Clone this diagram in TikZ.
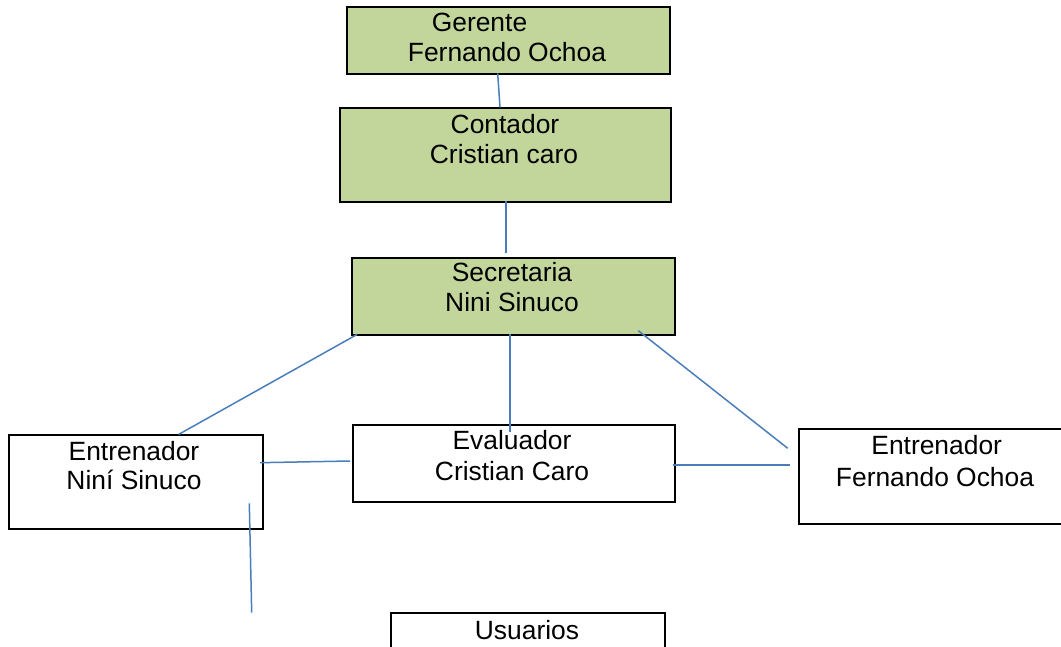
\documentclass[tikz,border=0pt]{standalone}
\usepackage{fontspec}
\setmainfont{Liberation Sans}
\definecolor{boxgreen}{HTML}{C2D69B}
\definecolor{linkblue}{HTML}{4A7EBB}
\tikzset{
  orgbox/.style={draw=black, line width=2pt, inner sep=0pt, anchor=north west},
  greenbox/.style={orgbox, fill=boxgreen},
  whitebox/.style={orgbox, fill=white},
  txt/.style={anchor=base, inner sep=0pt, font=\fontsize{26.4}{31}\selectfont},
  link/.style={draw=linkblue, line width=1.5pt}
}
\begin{document}
\begin{tikzpicture}[x=1pt,y=-1pt]
\clip (0,0) rectangle (1061,647);
\fill[white] (0,0) rectangle (1061,647);
% boxes
\node[greenbox, minimum width=323pt, minimum height=67.5pt] (ger) at (345.8,5.8) {};
\node[greenbox, minimum width=330.7pt, minimum height=93.7pt] (con) at (339.3,107.3) {};
\node[greenbox, minimum width=323pt, minimum height=77.5pt] (sec) at (350.8,256.7) {};
\node[whitebox, minimum width=254.8pt, minimum height=93.6pt] (entn) at (7.5,434) {};
\node[whitebox, minimum width=321.5pt, minimum height=77pt] (eva) at (352,424) {};
\node[whitebox, minimum width=262.4pt, minimum height=95pt] (entf) at (798.3,428.3) {};
\node[whitebox, minimum width=274pt, minimum height=60pt] (usu) at (390,612) {};
% texts
\node[txt] (gerT1) at (479.5,32) {Gerente};
\node[txt] (gerT2) at (507,62) {Fernando Ochoa};
\node[txt] (conT1) at (505,134) {Contador};
\node[txt] (conT2) at (504,163.3) {Cristian caro};
\node[txt] (secT1) at (512,281.7) {Secretaria};
\node[txt] (secT2) at (512,312) {Nini Sinuco};
\node[txt] (entnT1) at (134,460) {Entrenador};
\node[txt] (entnT2) at (134,489.3) {Niní Sinuco};
\node[txt] (evaT1) at (512,449.5) {Evaluador};
\node[txt] (evaT2) at (512,480) {Cristian Caro};
\node[txt] (entfT1) at (936.7,454) {Entrenador};
\node[txt] (entfT2) at (935,486.7) {Fernando Ochoa};
\node[txt] (usuT1) at (527,639) {Usuarios};
% connector ends
\coordinate (gerA) at (497.7,73.3);
\coordinate (conA) at (500,107.3);
\coordinate (conB) at (506,201);
\coordinate (secA) at (506,252.7);
\coordinate (secL) at (357,334.5);
\coordinate (entnA) at (178.5,434.5);
\coordinate (secM) at (510,334);
\coordinate (evaA) at (510,432);
\coordinate (secR) at (638.3,330.7);
\coordinate (entfA) at (787.7,448.3);
\coordinate (evaL) at (350,461);
\coordinate (entnR) at (260,462.7);
\coordinate (evaR) at (672.7,465);
\coordinate (entfL) at (790,465);
\coordinate (entnB) at (249.3,503.3);
\coordinate (entnEnd) at (251.7,612.7);
% connectors
\draw[link] (gerA) -- (conA);
\draw[link] (conB) -- (secA);
\draw[link] (secL) -- (entnA);
\draw[link] (secM) -- (evaA);
\draw[link] (secR) -- (entfA);
\draw[link] (evaL) -- (entnR);
\draw[link] (evaR) -- (entfL);
\draw[link] (entnB) -- (entnEnd);
\end{tikzpicture}
\end{document}
